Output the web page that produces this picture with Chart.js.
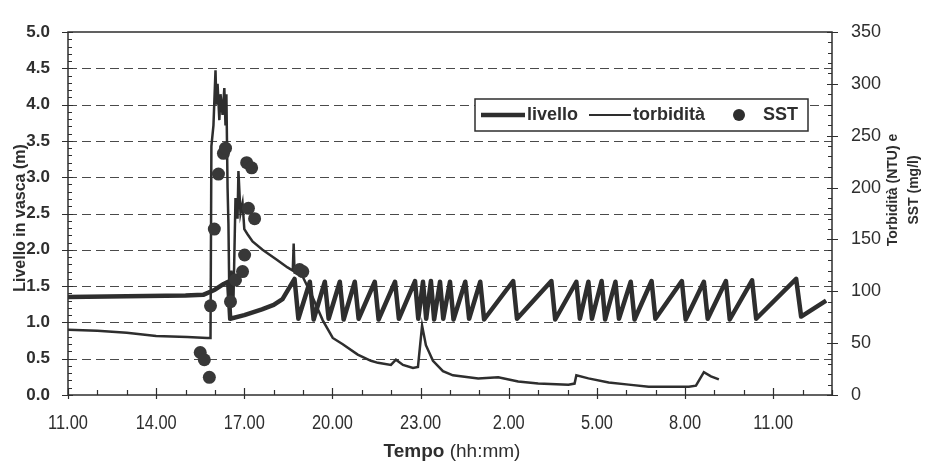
<!DOCTYPE html>
<html>
<head>
<meta charset="utf-8">
<script src="https://cdn.jsdelivr.net/npm/chart.js@4.4.1/dist/chart.umd.min.js"></script>
<style>
  html, body { margin: 0; padding: 0; background: #fff; }
  #wrap { width: 928px; height: 461px; }
</style>
</head>
<body>
<div id="wrap"><canvas id="grafico" width="928" height="461"></canvas></div>
<script>
// ore trascorse dalle 11.00 del primo giorno
const oreTick = [0, 3, 6, 9, 12, 15, 18, 21, 24];
const etichetteOre = ['11.00', '14.00', '17.00', '20.00', '23.00', '2.00', '5.00', '8.00', '11.00'];
const livelloTick = [0, 0.5, 1, 1.5, 2, 2.5, 3, 3.5, 4, 4.5, 5];

// livello in vasca (m) - cicli di riempimento / svuotamento della pompa
const livelloOre = [0, 2, 4, 4.6, 5.0, 5.3, 5.45, 5.52, 6.0, 6.6, 7.0, 7.3,
  7.71, 7.84, 8.23, 8.36, 8.74, 8.87, 9.25, 9.38, 9.76, 9.89, 10.44, 10.57,
  11.13, 11.26, 11.81, 11.92, 12.08, 12.19, 12.35, 12.46, 12.66, 12.77, 13.0, 13.12,
  13.52, 13.65, 14.03, 14.16, 15.15, 15.28, 16.45, 16.58, 17.3, 17.42, 17.71, 17.83,
  18.16, 18.28, 18.63, 18.75, 19.15, 19.28, 19.86, 19.99, 20.89, 21.02, 21.64, 21.77,
  22.39, 22.52, 23.28, 23.42, 24.78, 24.95, 25.8];
const livelloM = [1.35, 1.36, 1.37, 1.38, 1.45, 1.53, 1.56, 1.05, 1.1, 1.18, 1.24, 1.32,
  1.6, 1.05, 1.56, 1.04, 1.56, 1.05, 1.56, 1.04, 1.56, 1.05, 1.56, 1.04,
  1.56, 1.05, 1.57, 1.05, 1.56, 1.05, 1.57, 1.04, 1.56, 1.05, 1.56, 1.04,
  1.56, 1.05, 1.56, 1.04, 1.57, 1.05, 1.57, 1.04, 1.56, 1.05, 1.56, 1.05,
  1.57, 1.04, 1.56, 1.05, 1.56, 1.04, 1.57, 1.05, 1.57, 1.04, 1.56, 1.05,
  1.57, 1.04, 1.58, 1.05, 1.6, 1.08, 1.3];

// torbidità (NTU)
const torbOre = [0, 1, 2, 3, 4.06, 4.74, 4.85, 4.88, 4.95, 5.02, 5.05, 5.09, 5.15, 5.19,
  5.26, 5.32, 5.36, 5.39, 5.43, 5.46, 5.5, 5.56, 5.63, 5.7, 5.77, 5.8, 5.87, 5.94,
  6.0, 6.11, 6.28, 6.62, 7.13, 7.47, 7.65, 7.68, 7.71, 7.82, 7.99, 8.33, 8.67, 9.01,
  9.35, 9.86, 10.31, 10.55, 10.99, 11.16, 11.4, 11.74, 11.91, 12.05, 12.18, 12.42,
  12.76, 13.1, 13.96, 14.64, 15.32, 16.0, 17.03, 17.24, 17.3, 17.71, 18.4, 19.08,
  19.76, 21.13, 21.37, 21.64, 21.88, 22.15];
const torbNTU = [63, 62, 60, 57, 56, 55, 55, 240, 260, 313, 280, 300, 265, 290,
  270, 296, 260, 290, 200, 165, 72, 120, 90, 190, 170, 216, 175, 185,
  160, 155, 148, 140, 130, 123, 120, 146, 118, 117, 114, 94, 72, 55,
  49, 39, 33, 31, 29, 34, 29, 26, 27, 67, 48, 33,
  23, 19, 16, 17, 13, 11, 10, 11, 19, 16, 12, 10,
  8, 8, 9, 22, 18, 15];

// solidi sospesi totali (mg/l)
const sstOre = [4.5, 4.64, 4.81, 4.85, 4.98, 5.12, 5.29, 5.36, 5.53, 5.7, 5.94, 6.01,
  6.08, 6.14, 6.25, 6.35, 7.88, 7.99];
const sstMgL = [41, 34, 17, 86, 160, 213, 233, 238, 90, 111, 119, 135,
  224, 180, 219, 170, 121, 119];

const INK = '#2e2e2e';
const FONT = '"Liberation Sans", Arial, sans-serif';

const punti = (xs, ys) => xs.map((x, i) => ({ x: x, y: ys[i] }));

// griglia tratteggiata, cornice, tacche, titoli e legenda
const decorazioni = {
  id: 'decorazioni',
  beforeDatasetsDraw(chart) {
    const { ctx, chartArea: a, scales: { x, y, y1 } } = chart;
    ctx.save();
    ctx.strokeStyle = '#4a4a4a';
    ctx.lineWidth = 1.2;
    ctx.setLineDash([9, 5]);
    livelloTick.forEach(v => {
      if (v <= 0 || v >= 5) return;
      const py = Math.round(y.getPixelForValue(v)) + 0.5;
      ctx.beginPath(); ctx.moveTo(a.left, py); ctx.lineTo(a.right, py); ctx.stroke();
    });
    ctx.setLineDash([]);

    ctx.strokeStyle = INK;
    ctx.lineWidth = 1.5;
    ctx.strokeRect(a.left, a.top, a.right - a.left, a.bottom - a.top);

    ctx.lineWidth = 1.2;
    ctx.beginPath();
    // asse sinistro: tacche ogni 0.1 m
    for (let i = 0; i <= 50; i++) {
      const py = Math.round(y.getPixelForValue(i / 10)) + 0.5;
      if (i % 5 === 0) { ctx.moveTo(a.left - 6, py); ctx.lineTo(a.left + 5, py); }
      else { ctx.moveTo(a.left, py); ctx.lineTo(a.left + 4, py); }
    }
    // asse destro: tacche ogni 10 NTU
    for (let i = 0; i <= 35; i++) {
      const py = Math.round(y1.getPixelForValue(i * 10)) + 0.5;
      if (i % 5 === 0) { ctx.moveTo(a.right - 5, py); ctx.lineTo(a.right + 6, py); }
      else { ctx.moveTo(a.right - 4, py); ctx.lineTo(a.right, py); }
    }
    // asse tempi: tacche ogni ora
    for (let h = 0; h <= 26; h++) {
      const px = Math.round(x.getPixelForValue(h)) + 0.5;
      if (h % 3 === 0) { ctx.moveTo(px, a.bottom - 7); ctx.lineTo(px, a.bottom + 4); }
      else { ctx.moveTo(px, a.bottom - 5); ctx.lineTo(px, a.bottom); }
    }
    ctx.stroke();
    ctx.restore();
  },
  afterDraw(chart) {
    const { ctx, scales: { x } } = chart;
    ctx.save();
    ctx.fillStyle = INK;
    ctx.textBaseline = 'middle';
    ctx.textAlign = 'center';

    // etichette orarie, carattere stretto
    ctx.font = '20px ' + FONT;
    oreTick.forEach((v, i) => {
      ctx.save();
      ctx.translate(x.getPixelForValue(v), 423);
      ctx.scale(0.82, 1);
      ctx.fillText(etichetteOre[i], 0, 0);
      ctx.restore();
    });

    // titoli degli assi
    ctx.font = 'bold 16px ' + FONT;
    ctx.save(); ctx.translate(21, 218); ctx.rotate(-Math.PI / 2);
    ctx.fillText('Livello in vasca (m)', 0, 0); ctx.restore();

    ctx.font = 'bold 14px ' + FONT;
    ctx.save(); ctx.translate(893, 190); ctx.rotate(-Math.PI / 2);
    ctx.fillText('Torbidità (NTU) e', 0, 0); ctx.restore();
    ctx.save(); ctx.translate(914, 190); ctx.rotate(-Math.PI / 2);
    ctx.fillText('SST (mg/l)', 0, 0); ctx.restore();

    ctx.textAlign = 'left';
    ctx.font = 'bold 19px ' + FONT;
    const w1 = ctx.measureText('Tempo').width;
    ctx.font = '19px ' + FONT;
    const w2 = ctx.measureText(' (hh:mm)').width;
    const x0 = 452 - (w1 + w2) / 2;
    ctx.font = 'bold 19px ' + FONT;
    ctx.fillText('Tempo', x0, 452);
    ctx.font = '19px ' + FONT;
    ctx.fillText(' (hh:mm)', x0 + w1, 452);

    // legenda
    ctx.fillStyle = '#fff';
    ctx.fillRect(475, 99, 333, 32);
    ctx.strokeStyle = INK;
    ctx.lineWidth = 1.5;
    ctx.strokeRect(475, 99, 333, 32);
    ctx.fillStyle = INK;
    ctx.lineCap = 'butt';
    ctx.lineWidth = 4.5;
    ctx.beginPath(); ctx.moveTo(481, 115); ctx.lineTo(525, 115); ctx.stroke();
    ctx.lineWidth = 1.8;
    ctx.beginPath(); ctx.moveTo(589, 115); ctx.lineTo(631, 115); ctx.stroke();
    ctx.beginPath(); ctx.arc(739, 115, 6, 0, Math.PI * 2); ctx.fill();
    ctx.font = 'bold 18px ' + FONT;
    const labels = chart.data.datasets.map(d => d.label);
    ctx.fillText(labels[2], 527, 115);
    ctx.fillText(labels[1], 633, 115);
    ctx.fillText(labels[0], 763, 115);
    ctx.restore();
  }
};

new Chart(document.getElementById('grafico'), {
  type: 'line',
  data: {
    datasets: [
      {
        label: 'SST', type: 'scatter', yAxisID: 'y1',
        data: punti(sstOre, sstMgL),
        backgroundColor: '#383838', borderWidth: 0, pointRadius: 6.5
      },
      {
        label: 'torbidità', yAxisID: 'y1',
        data: punti(torbOre, torbNTU),
        borderColor: INK, borderWidth: 2.5, pointRadius: 0, tension: 0
      },
      {
        label: 'livello', yAxisID: 'y',
        data: punti(livelloOre, livelloM),
        borderColor: INK, borderWidth: 4.5, pointRadius: 0, tension: 0,
        borderJoinStyle: 'round'
      }
    ]
  },
  options: {
    responsive: false,
    animation: false,
    layout: { padding: { top: 32, left: 0, right: 0, bottom: 0 } },
    plugins: { legend: { display: false }, tooltip: { enabled: false } },
    scales: {
      x: {
        type: 'linear', min: 0, max: 26,
        afterBuildTicks: s => { s.ticks = oreTick.map(v => ({ value: v })); },
        afterFit: s => { s.height = 66; },
        ticks: { display: false },
        grid: { display: false }, border: { display: false }
      },
      y: {
        position: 'left', min: 0, max: 5,
        afterBuildTicks: s => { s.ticks = livelloTick.map(v => ({ value: v })); },
        afterFit: s => { s.width = 68; },
        ticks: {
          callback: v => v.toFixed(1), padding: 10,
          color: INK, font: { family: FONT, size: 17, weight: 'bold' }
        },
        grid: { display: false }, border: { display: false }
      },
      y1: {
        position: 'right', min: 0, max: 350,
        ticks: { stepSize: 50, padding: 11, color: INK, font: { family: FONT, size: 18 } },
        afterFit: s => { s.width = 96; },
        grid: { display: false }, border: { display: false }
      }
    }
  },
  plugins: [decorazioni]
});
</script>
</body>
</html>
